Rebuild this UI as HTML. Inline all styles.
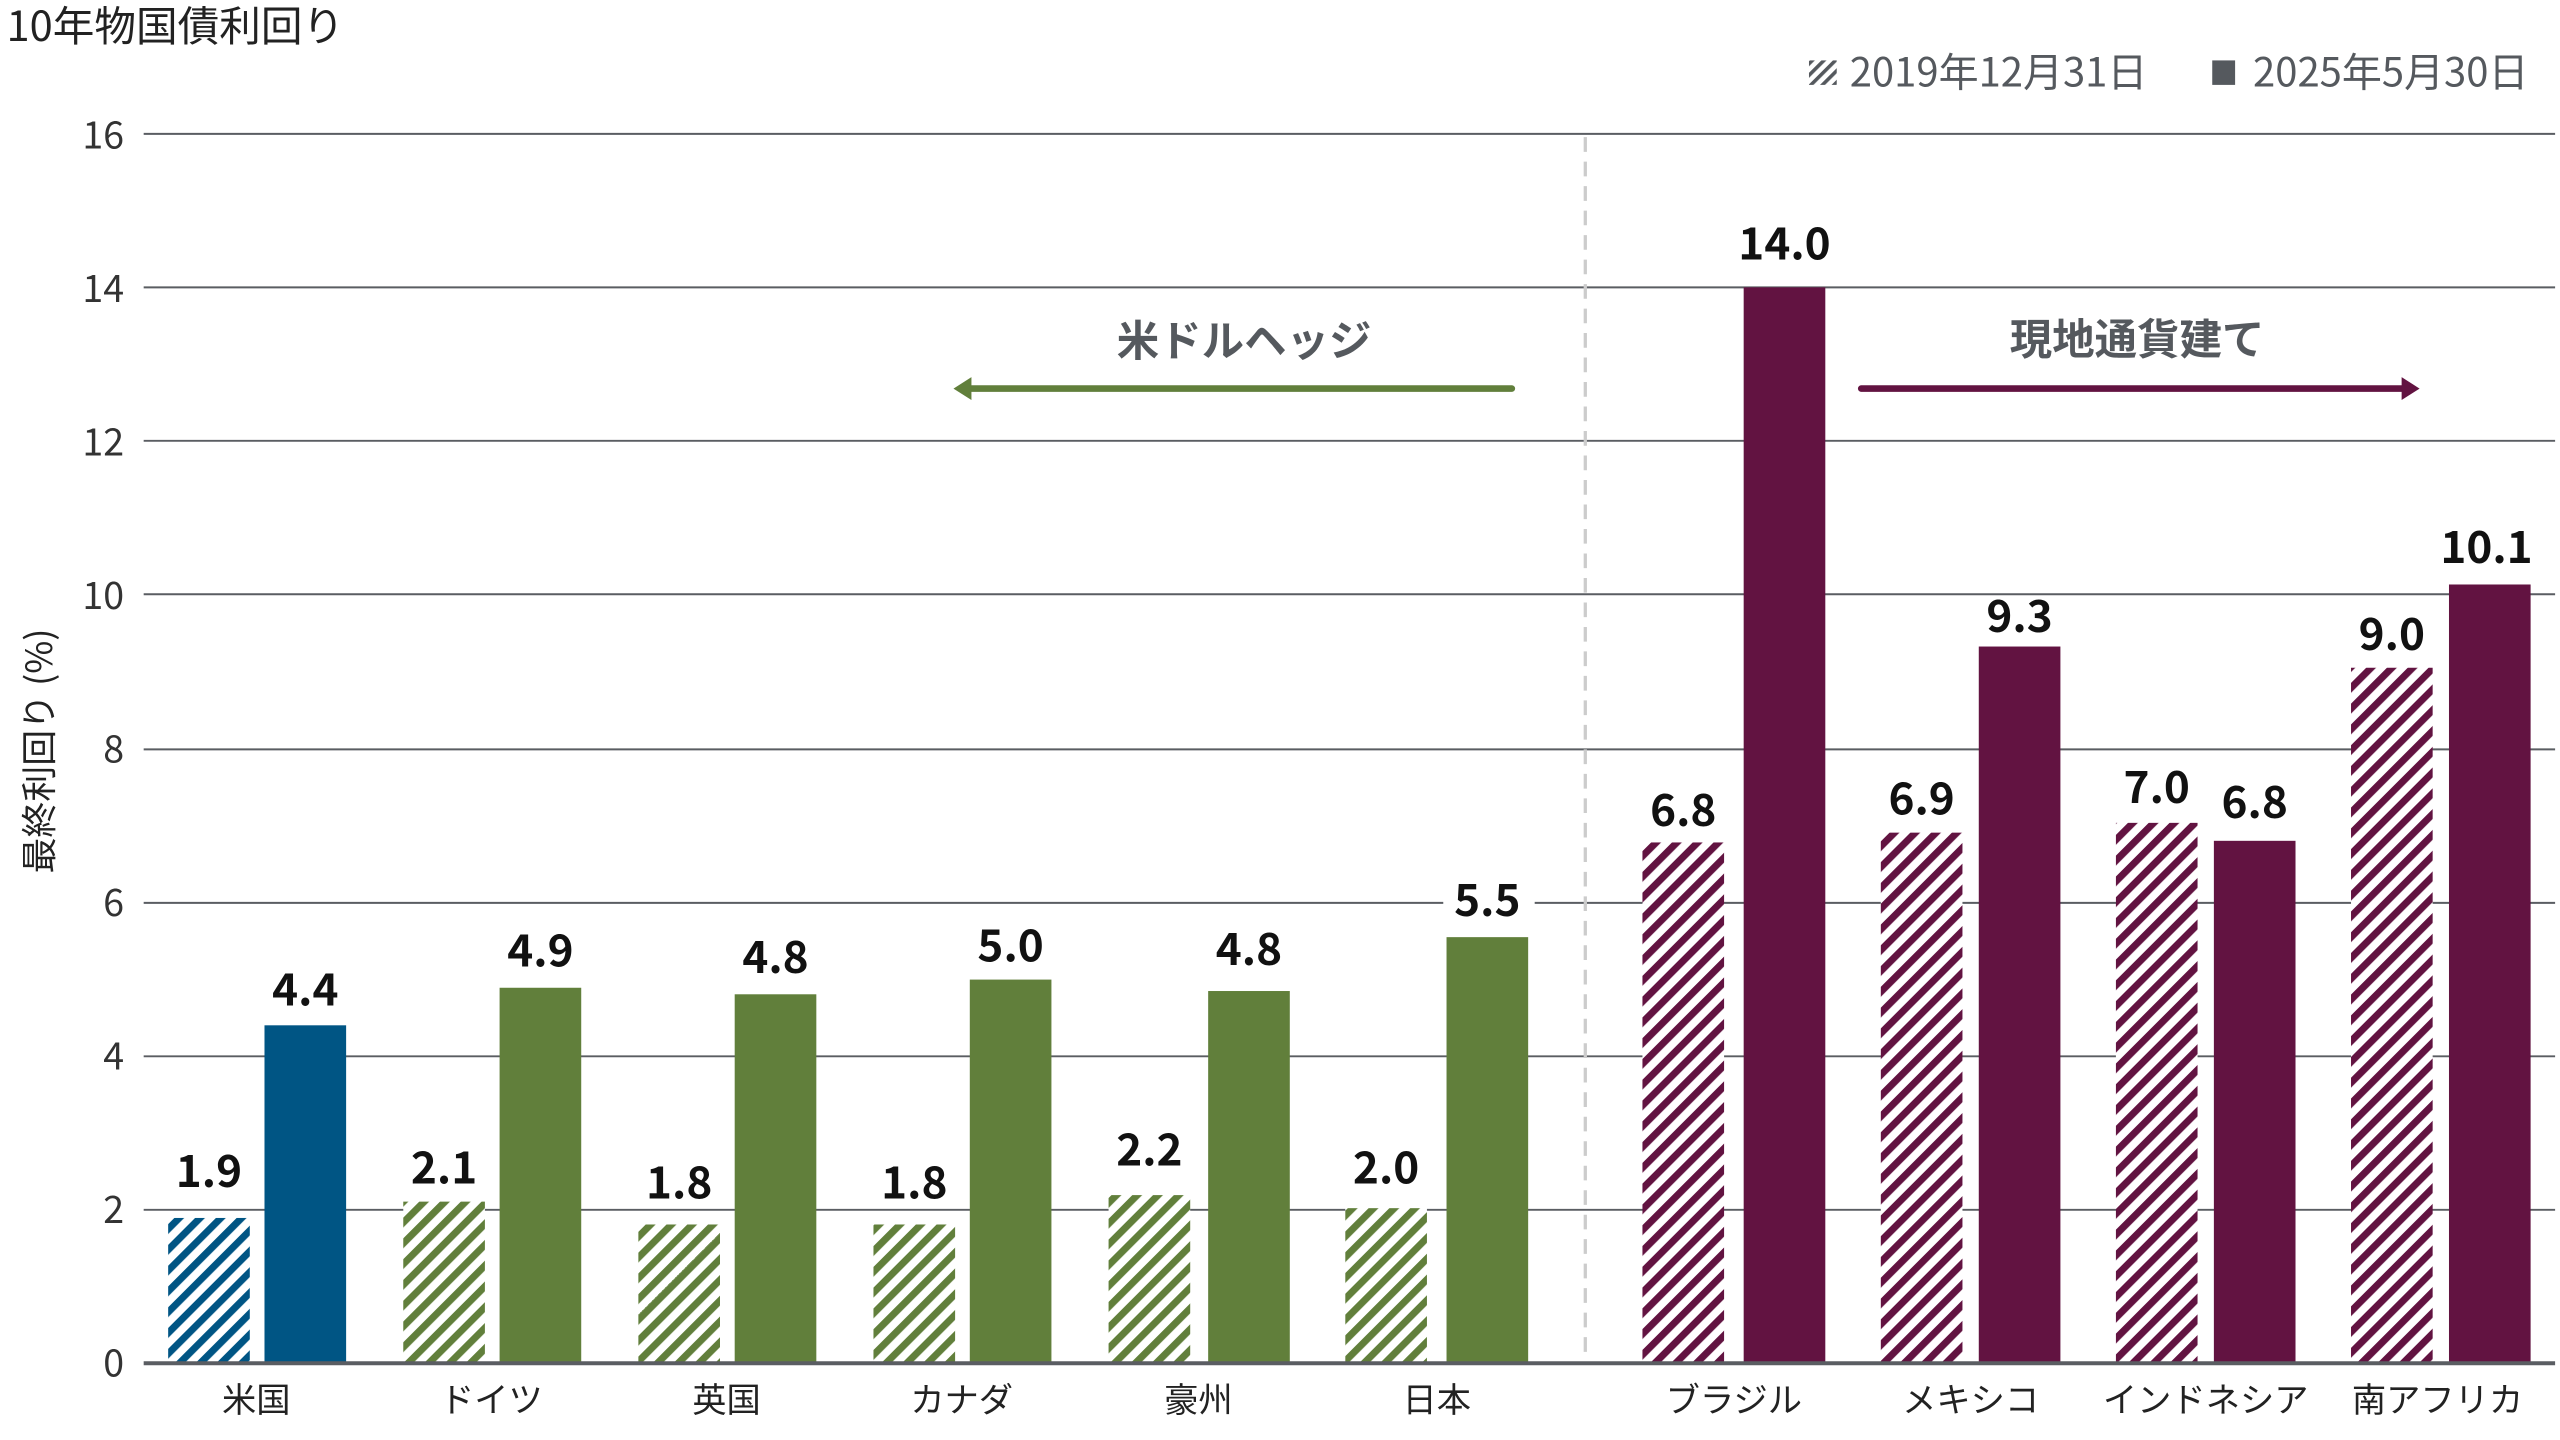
<!DOCTYPE html>
<html><head><meta charset="utf-8"><style>
html,body{margin:0;padding:0;background:#fff;}
svg{display:block;}
text{font-family:"Noto Sans CJK JP","Liberation Sans",sans-serif;}
.num{font-family:"Liberation Sans","Noto Sans CJK JP",sans-serif;}
</style></head><body>
<svg width="2560" height="1440" viewBox="0 0 1568 882" xmlns="http://www.w3.org/2000/svg">
<defs>
<pattern id="hb" width="9" height="9" patternUnits="userSpaceOnUse" patternTransform="rotate(45)"><rect width="9" height="9" fill="#fff"/><rect width="4.3" height="9" fill="#005584"/></pattern>
<pattern id="hg" width="9" height="9" patternUnits="userSpaceOnUse" patternTransform="rotate(45)"><rect width="9" height="9" fill="#fff"/><rect width="4.3" height="9" fill="#617f3b"/></pattern>
<pattern id="hp" width="9" height="9" patternUnits="userSpaceOnUse" patternTransform="rotate(45)"><rect width="9" height="9" fill="#fff"/><rect width="4.3" height="9" fill="#621341"/></pattern>
<pattern id="hl" width="5" height="5" patternUnits="userSpaceOnUse" patternTransform="rotate(45)"><rect width="5" height="5" fill="#fff"/><rect width="2.2" height="5" fill="#55595e"/></pattern>
</defs>
<text x="4" y="25" font-size="25.5" fill="#222">10年物国債利回り</text>
<rect x="1108" y="37" width="17" height="15" fill="url(#hl)"/>
<text x="1133" y="53" font-size="24.5" fill="#55595e">2019年12月31日</text>
<rect x="1355" y="37" width="14" height="15" fill="#55595e"/>
<text x="1380" y="53" font-size="24.5" fill="#55595e">2025年5月30日</text>
<g stroke="#5a5d62" stroke-width="1.2">
<line x1="88" y1="82" x2="1565" y2="82"/><line x1="88" y1="176" x2="1565" y2="176"/><line x1="88" y1="270" x2="1565" y2="270"/><line x1="88" y1="364" x2="1565" y2="364"/><line x1="88" y1="459" x2="1565" y2="459"/><line x1="88" y1="553" x2="1565" y2="553"/><line x1="88" y1="647" x2="1565" y2="647"/><line x1="88" y1="741" x2="1565" y2="741"/>
</g>
<g font-size="23" fill="#333" text-anchor="end">
<text x="76" y="843">0</text><text x="76" y="749">2</text><text x="76" y="655">4</text><text x="76" y="561">6</text><text x="76" y="467">8</text><text x="76" y="373">10</text><text x="76" y="279">12</text><text x="76" y="185">14</text><text x="76" y="91">16</text>
</g>
<text transform="translate(32,460) rotate(-90)" font-size="22" fill="#222" text-anchor="middle">最終利回り (%)</text>
<line x1="971" y1="84" x2="971" y2="833" stroke="#ccc" stroke-width="2" stroke-dasharray="9,6"/>
<g>
<rect x="103" y="746" width="50" height="89" fill="url(#hb)"/><rect x="162" y="628" width="50" height="207" fill="#005584"/>
<rect x="247" y="736" width="50" height="99" fill="url(#hg)"/><rect x="306" y="605" width="50" height="230" fill="#617f3b"/>
<rect x="391" y="750" width="50" height="85" fill="url(#hg)"/><rect x="450" y="609" width="50" height="226" fill="#617f3b"/>
<rect x="535" y="750" width="50" height="85" fill="url(#hg)"/><rect x="594" y="600" width="50" height="235" fill="#617f3b"/>
<rect x="679" y="732" width="50" height="103" fill="url(#hg)"/><rect x="740" y="607" width="50" height="228" fill="#617f3b"/>
<rect x="824" y="740" width="50" height="95" fill="url(#hg)"/><rect x="886" y="574" width="50" height="261" fill="#617f3b"/>
<rect x="1006" y="516" width="50" height="319" fill="url(#hp)"/><rect x="1068" y="176" width="50" height="659" fill="#621341"/>
<rect x="1152" y="510" width="50" height="325" fill="url(#hp)"/><rect x="1212" y="396" width="50" height="439" fill="#621341"/>
<rect x="1296" y="504" width="50" height="331" fill="url(#hp)"/><rect x="1356" y="515" width="50" height="320" fill="#621341"/>
<rect x="1440" y="409" width="50" height="426" fill="url(#hp)"/><rect x="1500" y="358" width="50" height="477" fill="#621341"/>
</g>
<line x1="88" y1="835" x2="1565" y2="835" stroke="#5a5d62" stroke-width="2.5"/>
<g class="num" font-size="27" font-weight="bold" fill="#111" text-anchor="middle">
<rect x="884" y="537" width="56" height="30" fill="#fff"/>
<text x="128" y="727">1.9</text><text x="187" y="616">4.4</text>
<text x="272" y="725">2.1</text><text x="331" y="592">4.9</text>
<text x="416" y="734">1.8</text><text x="475" y="596">4.8</text>
<text x="560" y="734">1.8</text><text x="619" y="589">5.0</text>
<text x="704" y="714">2.2</text><text x="765" y="591">4.8</text>
<text x="849" y="725">2.0</text><text x="911" y="561">5.5</text>
<text x="1031" y="506">6.8</text><text x="1093" y="159">14.0</text>
<text x="1177" y="499">6.9</text><text x="1237" y="387">9.3</text>
<text x="1321" y="492">7.0</text><text x="1381" y="501">6.8</text>
<text x="1465" y="398">9.0</text><text x="1523" y="345">10.1</text>
</g>
<g font-size="21" fill="#222" text-anchor="middle">
<text x="157" y="865">米国</text><text x="301" y="865">ドイツ</text><text x="445" y="865">英国</text><text x="589" y="865">カナダ</text><text x="734" y="865">豪州</text><text x="880" y="865">日本</text>
<text x="1062" y="865">ブラジル</text><text x="1207" y="865">メキシコ</text><text x="1351" y="865">インドネシア</text><text x="1493" y="865">南アフリカ</text>
</g>
<text x="762" y="218" font-size="26" font-weight="bold" fill="#55595e" text-anchor="middle">米ドルヘッジ</text>
<line x1="926" y1="238" x2="592" y2="238" stroke="#617f3b" stroke-width="4" stroke-linecap="round"/>
<polygon points="584,238 595,231 595,245" fill="#617f3b"/>
<text x="1309" y="217" font-size="26" font-weight="bold" fill="#55595e" text-anchor="middle">現地通貨建て</text>
<line x1="1140" y1="238" x2="1474" y2="238" stroke="#621341" stroke-width="4" stroke-linecap="round"/>
<polygon points="1482,238 1471,231 1471,245" fill="#621341"/>
</svg>
</body></html>
